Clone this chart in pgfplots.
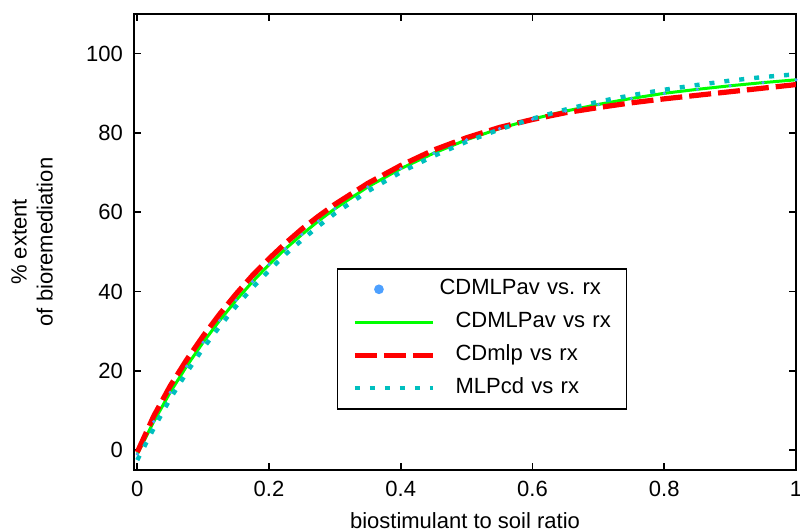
\documentclass[border=0pt]{standalone}
\usepackage{fontspec}
\setmainfont{Liberation Sans}
\usepackage{pgfplots}
\pgfplotsset{compat=1.18}
\definecolor{mgreen}{RGB}{0,255,0}
\definecolor{mred}{RGB}{255,0,0}
\definecolor{mcyan}{RGB}{0,191,191}
\definecolor{mblue}{RGB}{77,160,255}
\pgfplotsset{markleg/.style={legend image code/.code={\draw[mark repeat=2,mark phase=2,##1,mark size=2pt] plot coordinates {(0pt,0pt) (12pt,0pt) (24pt,0pt)};}}}
\pgfplotstableread{
x g r c
0 -1 -0.5 -2.5
0.025 7.2 8.6 5.5
0.05 14.6 16.2 13.0
0.075 21.2 22.8 19.6
0.1 27.2 28.8 25.7
0.125 32.7 34.3 31.2
0.15 37.8 39.4 36.3
0.175 42.5 44.1 41.0
0.2 46.8 48.3 45.3
0.225 50.8 52.2 49.4
0.25 54.4 55.8 53.0
0.275 57.8 59.0 56.5
0.3 60.9 62.0 59.7
0.35 66.4 67.3 65.3
0.4 71.0 71.8 70.1
0.45 74.9 75.7 74.2
0.5 78.3 78.8 77.8
0.55 81.1 81.4 80.9
0.6 83.5 83.4 83.6
0.65 85.5 85.1 85.9
0.7 87.2 86.4 87.9
0.75 88.7 87.6 89.5
0.8 90.0 88.6 90.9
0.85 91.0 89.5 92.1
0.9 91.9 90.4 93.2
0.95 92.7 91.3 94.1
1 93.4 92.2 94.8
}\datatab
\begin{document}
\begin{tikzpicture}
\begin{axis}[name=ax, scale only axis, width=331pt, height=228pt,
 xmin=-0.005, xmax=1, ymin=-5, ymax=110,
 xtick={0,0.2,0.4,0.6,0.8,1}, ytick={0,20,40,60,80,100},
 tick align=inside, major tick length=3.5pt,
 axis line style={line width=0.8pt},
 every tick/.style={black, line width=0.8pt},
 ticklabel style={font=\fontsize{11}{13}\selectfont},
 xticklabel style={yshift=-2pt},
 yticklabel style={xshift=-2pt},
 /pgf/number format/assume math mode=true,
 xlabel={biostimulant to soil ratio},
 ylabel={\% extent\\of bioremediation},
 every axis x label/.style={at={(axis description cs:0.5,0)}, anchor=center, yshift=-25.5pt, font=\fontsize{11}{13}\selectfont},
 every axis y label/.style={at={(axis description cs:-0.154,0.5)}, rotate=90, anchor=center, align=center, font=\fontsize{11}{13}\selectfont},
 legend style={at={(0.306,0.443)}, anchor=north west, draw=black, line width=0.8pt, inner xsep=7.5pt, inner ysep=2pt, row sep=0pt, font=\fontsize{11}{13}\selectfont, nodes={text width=84pt, text height=8pt, text depth=2.5pt, inner ysep=3pt, align=left}},
 legend cell align=left,
 legend image code/.code={\draw[mark repeat=2,mark phase=2,#1] plot coordinates {(0pt,0pt) (19.5pt,0pt) (39pt,0pt)};},
]
\addplot[only marks, mark=*, mark size=0.6pt, color=mblue, markleg]
  table[x=x, y=g] {\datatab};
\addlegendentry{\mbox{CDMLPav vs.\ rx}}
\addplot[mgreen, line width=1.5pt, no marks] table[x=x, y=g] {\datatab};
\addlegendentry{\mbox{\hspace{8pt}CDMLPav vs rx}}
\addplot[mred, line width=2.6pt, no marks, dash pattern=on 11pt off 3.5pt] table[x=x, y=r] {\datatab};
\addlegendentry{\mbox{\hspace{8pt}CDmlp vs rx}}
\addplot[mcyan, line width=2.2pt, no marks, dash pattern=on 2.5pt off 5pt] table[x=x, y=c] {\datatab};
\addlegendentry{\mbox{\hspace{8pt}MLPcd vs rx}}
\end{axis}
\pgfresetboundingbox
\path ([shift={(-67pt,-30.5pt)}]ax.south west) rectangle ([shift={(2pt,7pt)}]ax.north east);
\end{tikzpicture}
\end{document}
